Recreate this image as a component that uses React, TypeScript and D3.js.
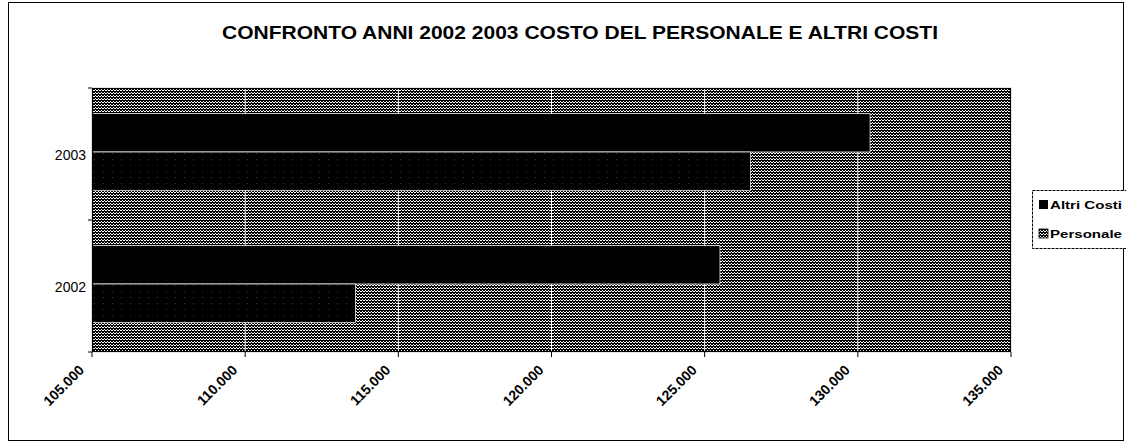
import React from "react";
import * as d3 from "d3";

const categories = ["2003", "2002"];
const seriesNames = ["Altri Costi", "Personale"];
const altriCosti = [130400, 125500];
const personale = [126500, 113600];
const tickValues = [105000, 110000, 115000, 120000, 125000, 130000, 135000];
const tickLabels = ["105.000", "110.000", "115.000", "120.000", "125.000", "130.000", "135.000"];
const title = "CONFRONTO ANNI 2002 2003 COSTO DEL PERSONALE E ALTRI COSTI";

const W = 1126;
const H = 444;
const plot = { left: 92, right: 1011, top: 88, bottom: 352 };

export default function App() {
  const x = d3.scaleLinear().domain([105000, 135000]).range([plot.left, plot.right]);
  const y = d3.scaleBand<string>().domain(categories).range([plot.top, plot.bottom]);
  const inner = d3
    .scaleBand<string>()
    .domain(seriesNames)
    .range([0, y.bandwidth()])
    .paddingInner(0)
    .paddingOuter(0.72);
  const values: Record<string, number[]> = { "Altri Costi": altriCosti, Personale: personale };
  const font = "'Liberation Sans', Arial, sans-serif";

  return (
    <svg
      width={W}
      height={H}
      style={{ position: "absolute", left: 0, top: 0, background: "#fff" }}
      fontFamily={font}
    >
      <defs>
        <pattern id="dither" width="3" height="3" patternUnits="userSpaceOnUse">
          <rect width="3" height="3" fill="#000" />
          <rect x="0" y="0" width="2" height="1" fill="#fff" />
          <rect x="2" y="2" width="1" height="1" fill="#fff" />
        </pattern>
        <pattern id="darkDither" width="9" height="6" patternUnits="userSpaceOnUse">
          <rect width="9" height="6" fill="#000" />
          <rect x="4" y="3" width="1" height="1" fill="#333" />
        </pattern>
      </defs>

      <rect x={8.5} y={2.5} width={1115} height={438} fill="#fff" stroke="#000" strokeWidth={1} />

      <text
        x={(222 + 938) / 2}
        y={39}
        textAnchor="middle"
        fontSize={19}
        fontWeight="bold"
        textLength={716}
        lengthAdjust="spacingAndGlyphs"
      >
        {title}
      </text>

      <rect
        x={plot.left}
        y={plot.top}
        width={plot.right - plot.left}
        height={plot.bottom - plot.top}
        fill="url(#dither)"
      />

      {tickValues.slice(1, -1).map((t) => (
        <line key={"g" + t} x1={x(t)} x2={x(t)} y1={plot.top} y2={plot.bottom} stroke="#fff" strokeWidth={1} />
      ))}

      {categories.map((c, i) =>
        seriesNames.map((s) => {
          const y0 = (y(c) ?? 0) + (inner(s) ?? 0) - 2;
          const v = values[s][i];
          return (
            <rect
              key={c + s}
              x={x(105000)}
              y={y0}
              width={x(v) - x(105000)}
              height={inner.bandwidth()}
              fill={s === "Personale" ? "url(#darkDither)" : "#000"}
              stroke="#eee"
              strokeWidth={0.8}
            />
          );
        })
      )}

      <rect
        x={plot.left + 0.5}
        y={plot.top + 0.5}
        width={plot.right - plot.left - 1}
        height={plot.bottom - plot.top - 1}
        fill="none"
        stroke="#000"
        strokeWidth={1.2}
      />

      {tickValues.map((t, i) => (
        <g key={"t" + t}>
          <line x1={x(t)} x2={x(t)} y1={plot.bottom} y2={plot.bottom + 5} stroke="#000" />
          <text
            x={x(t) - 7}
            y={371}
            textAnchor="end"
            fontSize={14}
            fontWeight="bold"
            transform={`rotate(-45, ${x(t) - 7}, 371)`}
          >
            {tickLabels[i]}
          </text>
        </g>
      ))}

      {[plot.top, plot.top + y.step(), plot.bottom].map((yy, i) => (
        <line key={"yt" + i} x1={plot.left - 4} x2={plot.left} y1={yy} y2={yy} stroke="#000" />
      ))}

      {categories.map((c) => (
        <text key={"yl" + c} x={86} y={(y(c) ?? 0) + y.bandwidth() / 2 + 6} textAnchor="end" fontSize={14}>
          {c}
        </text>
      ))}

      <rect x={1032.5} y={190.5} width={100} height={58} fill="#fff" stroke="#000" strokeWidth={1} strokeDasharray="3,1" />
      <rect x={1039} y={200} width={9} height={9} fill="#000" />
      <text x={1050} y={209} fontSize={11} fontWeight="bold" textLength={72} lengthAdjust="spacingAndGlyphs">
        {seriesNames[0]}
      </text>
      <rect x={1039} y={229} width={9} height={9} fill="url(#dither)" stroke="#000" strokeWidth={0.8} />
      <text x={1050} y={238} fontSize={11} fontWeight="bold" textLength={72} lengthAdjust="spacingAndGlyphs">
        {seriesNames[1]}
      </text>
    </svg>
  );
}
